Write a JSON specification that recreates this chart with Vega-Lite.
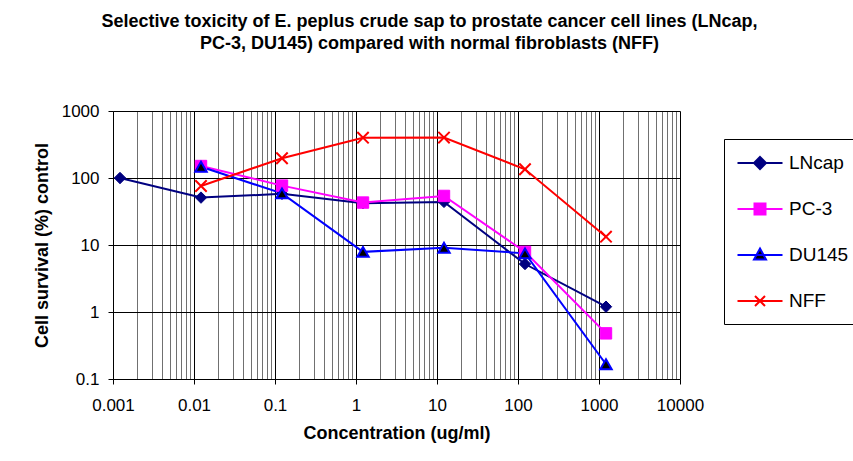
{
  "$schema": "https://vega.github.io/schema/vega-lite/v6.json",
  "autosize": "none",
  "width": 567,
  "height": 268,
  "padding": {"left": 113, "top": 111, "right": 173, "bottom": 82},
  "background": "white",
  "title": {
    "text": ["Selective toxicity of E. peplus crude sap to prostate cancer cell lines (LNcap,", "PC-3, DU145)  compared with normal fibroblasts (NFF)"],
    "font": "Liberation Sans",
    "fontSize": 18,
    "fontWeight": "bold",
    "color": "black",
    "anchor": "middle",
    "baseline": "alphabetic",
    "lineHeight": 22,
    "offset": 35,
    "dx": 33
  },
  "data": {
    "values": [
      {"series": "LNcap", "conc": 0.00122, "survival": 100},
      {"series": "LNcap", "conc": 0.0122, "survival": 51},
      {"series": "LNcap", "conc": 0.122, "survival": 58},
      {"series": "LNcap", "conc": 1.22, "survival": 42},
      {"series": "LNcap", "conc": 12.2, "survival": 44},
      {"series": "LNcap", "conc": 122, "survival": 5.2},
      {"series": "LNcap", "conc": 1220, "survival": 1.2},
      {"series": "PC-3", "conc": 0.0122, "survival": 151},
      {"series": "PC-3", "conc": 0.122, "survival": 77},
      {"series": "PC-3", "conc": 1.22, "survival": 43},
      {"series": "PC-3", "conc": 12.2, "survival": 54},
      {"series": "PC-3", "conc": 122, "survival": 7.9},
      {"series": "PC-3", "conc": 1220, "survival": 0.48},
      {"series": "DU145", "conc": 0.0122, "survival": 147},
      {"series": "DU145", "conc": 0.122, "survival": 59},
      {"series": "DU145", "conc": 1.22, "survival": 7.9},
      {"series": "DU145", "conc": 12.2, "survival": 9.1},
      {"series": "DU145", "conc": 122, "survival": 7.5},
      {"series": "DU145", "conc": 1220, "survival": 0.166},
      {"series": "NFF", "conc": 0.0122, "survival": 76},
      {"series": "NFF", "conc": 0.122, "survival": 197},
      {"series": "NFF", "conc": 1.22, "survival": 400},
      {"series": "NFF", "conc": 12.2, "survival": 401},
      {"series": "NFF", "conc": 122, "survival": 135},
      {"series": "NFF", "conc": 1220, "survival": 13.3}
    ]
  },
  "encoding": {
    "x": {
      "field": "conc",
      "type": "quantitative",
      "scale": {"type": "log", "domain": [0.001, 10000], "nice": false},
      "axis": {
        "title": "Concentration (ug/ml)",
        "values": [0.001,0.002,0.003,0.004,0.005,0.006,0.007,0.008,0.009,0.01,0.02,0.03,0.04,0.05,0.06,0.07,0.08,0.09,0.1,0.2,0.3,0.4,0.5,0.6,0.7,0.8,0.9,1,2,3,4,5,6,7,8,9,10,20,30,40,50,60,70,80,90,100,200,300,400,500,600,700,800,900,1000,2000,3000,4000,5000,6000,7000,8000,9000,10000],
        "format": "~g",
        "labelExpr": "indexof([0.001,0.01,0.1,1,10,100,1000,10000], datum.value) >= 0 ? datum.label : ''",
        "grid": true,
        "gridColor": {"condition": {"test": "indexof([0.001,0.01,0.1,1,10,100,1000,10000], datum.value) >= 0", "value": "#000000"}, "value": "#707070"},
        "gridOpacity": 1,
        "gridWidth": 1,
        "tickOpacity": {"condition": {"test": "indexof([0.001,0.01,0.1,1,10,100,1000,10000], datum.value) >= 0", "value": 1}, "value": 0},
        "tickColor": "black",
        "tickSize": 5,
        "domainColor": "black",
        "labelFont": "Liberation Sans",
        "labelFontSize": 17,
        "labelColor": "black",
        "labelPadding": 13,
        "labelFlush": false,
        "labelOverlap": false,
        "titleFont": "Liberation Sans",
        "titleFontSize": 18,
        "titleFontWeight": "bold",
        "titleColor": "black",
        "titlePadding": 11
      }
    },
    "y": {
      "field": "survival",
      "type": "quantitative",
      "scale": {"type": "log", "domain": [0.1, 1000], "nice": false},
      "axis": {
        "title": "Cell survival (%) control",
        "values": [0.1, 1, 10, 100, 1000],
        "format": "~g",
        "grid": true,
        "gridColor": "black",
        "gridOpacity": 1,
        "tickColor": "black",
        "tickSize": 5,
        "domainColor": "black",
        "labelFont": "Liberation Sans",
        "labelFontSize": 17,
        "labelColor": "black",
        "labelPadding": 9,
        "labelFlush": false,
        "titleFont": "Liberation Sans",
        "titleFontSize": 18,
        "titleFontWeight": "bold",
        "titleColor": "black",
        "titlePadding": 10
      }
    }
  },
  "layer": [
    {
      "mark": {"type": "line", "strokeWidth": 2},
      "encoding": {
        "color": {
          "field": "series",
          "type": "nominal",
          "sort": ["LNcap", "PC-3", "DU145", "NFF"],
          "scale": {"domain": ["LNcap", "PC-3", "DU145", "NFF"], "range": ["#000080", "#FF00FF", "#0000FF", "#FF0000"]},
          "legend": {
            "title": null,
            "orient": "none",
            "legendX": 611,
            "legendY": 28,
            "strokeColor": "black",
            "fillColor": "white",
            "padding": 13,
            "symbolSize": 400,
            "symbolStrokeWidth": 2,
            "symbolOffset": 12,
            "labelOffset": 18,
            "rowPadding": 25,
            "labelFont": "Liberation Sans",
            "labelFontSize": 19,
            "labelColor": "black",
            "encode": {
              "symbols": {
                "update": {
                  "shape": {"signal": "datum.value === 'LNcap' ? 'M-2.25,0H2.25M0,-0.6L0.6,0L0,0.6L-0.6,0Z' : datum.value === 'PC-3' ? 'M-2.25,0H2.25M-0.55,-0.55H0.55V0.55H-0.55Z' : datum.value === 'DU145' ? 'M-2.25,0H2.25M0,-0.65L0.6,0.45L-0.6,0.45Z' : 'M-2.25,0H2.25M-0.5,-0.5L0.5,0.5M-0.5,0.5L0.5,-0.5'"},
                  "fill": {"signal": "datum.value === 'LNcap' ? '#000080' : datum.value === 'PC-3' ? '#FF00FF' : datum.value === 'DU145' ? '#000000' : 'transparent'"},
                  "stroke": {"signal": "datum.value === 'LNcap' ? '#000080' : datum.value === 'PC-3' ? '#FF00FF' : datum.value === 'DU145' ? '#0000FF' : '#FF0000'"},
                  "strokeWidth": {"value": 2},
                  "opacity": {"value": 1}
                }
              }
            }
          }
        }
      }
    },
    {
      "mark": {"type": "point", "filled": false, "opacity": 1, "size": 130},
      "encoding": {
        "shape": {
          "field": "series",
          "type": "nominal",
          "scale": {"domain": ["NFF", "DU145", "PC-3", "LNcap"], "range": ["M-1,-1L1,1M-1,1L1,-1", "triangle-up", "square", "diamond"]},
          "legend": null
        },
        "fill": {
          "field": "series",
          "type": "nominal",
          "scale": {"domain": ["NFF", "DU145", "PC-3", "LNcap"], "range": ["transparent", "#000000", "#FF00FF", "#000080"]},
          "legend": null
        },
        "stroke": {
          "field": "series",
          "type": "nominal",
          "scale": {"domain": ["NFF", "DU145", "PC-3", "LNcap"], "range": ["#FF0000", "#0000FF", "#FF00FF", "#000080"]},
          "legend": null
        },
        "strokeWidth": {"condition": {"test": "datum.series === 'NFF' || datum.series === 'DU145'", "value": 2}, "value": 1}
      }
    }
  ],
  "config": {
    "view": {"stroke": null},
    "axis": {"gridCap": "butt"}
  }
}
